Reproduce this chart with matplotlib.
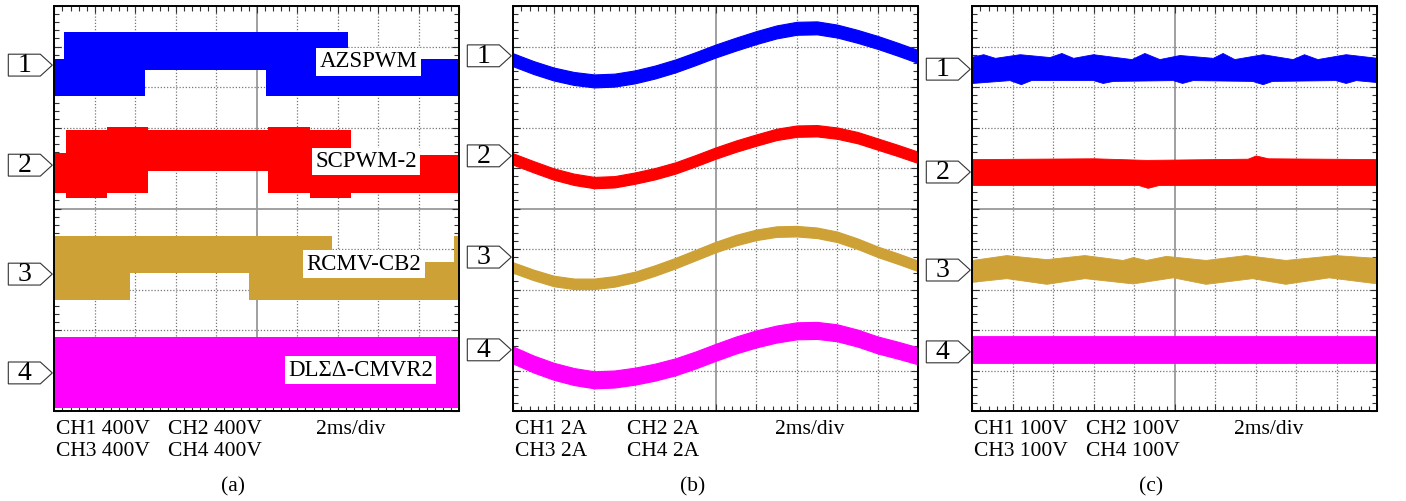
import numpy as np
import matplotlib
matplotlib.use("Agg")
import matplotlib.pyplot as plt
from matplotlib.patches import Polygon
from matplotlib.ticker import MultipleLocator

plt.rcParams['font.family'] = ['Liberation Serif', 'DejaVu Serif']

BLUE = '#0000ff'
RED = '#ff0000'
GOLD = '#cda135'
MAGENTA = '#ff00ff'

# ---- panel (a): stepped common-mode voltages (divisions) ----
a1_x = [0, 0.23, 2.25, 5.22, 7.24, 10]
a1_top = [8.69, 9.36, 9.36, 9.36, 8.69]
a1_bot = [7.78, 7.78, 8.42, 7.78, 7.78]

a2_x = [0, 0.29, 1.30, 2.32, 5.28, 6.32, 7.33, 10]
a2_top = [6.37, 6.94, 7.01, 6.94, 7.01, 6.94, 6.32]
a2_bot = [5.38, 5.26, 5.38, 5.93, 5.38, 5.26, 5.38]

a3_x = [0, 1.88, 4.81, 6.86, 9.88, 10]
a3_top = [4.33, 4.33, 4.33, 3.68, 4.33]
a3_bot = [2.74, 3.41, 2.74, 2.74, 2.74]

a4_x = [0, 10]
a4_top = [1.83]
a4_bot = [0.07]

a_labels = ['AZSPWM', 'SCPWM-2', 'RCMV-CB2', 'DLΣΔ-CMVR2']
a_label_x = [7.76, 7.70, 7.64, 7.56]
a_label_y = [8.62, 6.16, 3.62, 1.01]

# ---- panel (b): phase currents, band centres every 0.5 div ----
b_x = np.arange(0, 10.01, 0.5)
b1 = [8.67, 8.48, 8.32, 8.21, 8.15, 8.17, 8.25, 8.37, 8.52, 8.70, 8.89,
      9.06, 9.22, 9.36, 9.45, 9.46, 9.38, 9.25, 9.10, 8.93, 8.75]
b2 = [6.22, 6.03, 5.85, 5.72, 5.64, 5.66, 5.75, 5.86, 6.00, 6.18, 6.37,
      6.54, 6.69, 6.83, 6.91, 6.92, 6.86, 6.75, 6.59, 6.43, 6.26]
b3 = [3.54, 3.36, 3.21, 3.14, 3.14, 3.20, 3.31, 3.47, 3.65, 3.85, 4.05,
      4.22, 4.35, 4.43, 4.44, 4.40, 4.30, 4.13, 3.93, 3.76, 3.58]
b4 = [1.38, 1.16, 0.98, 0.85, 0.77, 0.79, 0.86, 0.96, 1.09, 1.26, 1.45,
      1.63, 1.78, 1.90, 1.98, 1.99, 1.93, 1.80, 1.63, 1.50, 1.36]
b_half = [0.16, 0.14, 0.13, 0.21]

# ---- panel (c): envelopes ----
c1_top_x = [0, 0.27, 0.56, 1.17, 1.91, 2.20, 2.49, 2.98, 3.93, 4.25, 4.62,
            5.12, 5.94, 6.18, 6.47, 7.17, 7.91, 8.19, 8.52, 9.22, 10]
c1_top = [8.75, 8.81, 8.72, 8.81, 8.74, 8.84, 8.72, 8.81, 8.69, 8.84, 8.69,
          8.79, 8.72, 8.84, 8.69, 8.81, 8.69, 8.81, 8.69, 8.81, 8.72]
c1_bot_x = [0, 0.92, 1.20, 1.45, 2.98, 3.22, 3.47, 4.95, 5.18, 5.44, 6.91,
            7.17, 7.40, 8.96, 9.22, 9.47, 10]
c1_bot = [8.10, 8.17, 8.07, 8.17, 8.17, 8.10, 8.15, 8.17, 8.10, 8.17, 8.15,
          8.07, 8.15, 8.17, 8.10, 8.17, 8.12]

c2_top_x = [0, 3.0, 4.3, 6.8, 7.0, 7.3, 10]
c2_top = [6.22, 6.24, 6.20, 6.23, 6.31, 6.24, 6.22]
c2_bot_x = [0, 4.1, 4.33, 4.6, 10]
c2_bot = [5.58, 5.58, 5.51, 5.58, 5.58]

c3_top_x = [0, 0.84, 1.83, 2.77, 3.71, 3.96, 4.29, 4.78, 5.76, 6.75, 7.73, 8.96, 10]
c3_top = [3.73, 3.85, 3.75, 3.85, 3.73, 3.80, 3.73, 3.83, 3.73, 3.85, 3.73, 3.85, 3.78]
c3_bot_x = [0, 0.84, 1.83, 2.77, 3.96, 4.95, 5.76, 6.91, 7.73, 8.80, 10]
c3_bot = [3.19, 3.28, 3.14, 3.28, 3.15, 3.30, 3.14, 3.28, 3.14, 3.30, 3.15]

c4_x = [0, 10]
c4_top = [1.85, 1.85]
c4_bot = [1.19, 1.19]

# channel marker levels (divisions)
markers = [[8.54, 6.07, 3.38, 0.94],
           [8.77, 6.30, 3.80, 1.51],
           [8.44, 5.90, 3.48, 1.46]]

scales = [('CH1 400V', 'CH2 400V', 'CH3 400V', 'CH4 400V'),
          ('CH1 2A', 'CH2 2A', 'CH3 2A', 'CH4 2A'),
          ('CH1 100V', 'CH2 100V', 'CH3 100V', 'CH4 100V')]
captions = ['(a)', '(b)', '(c)']

fig = plt.figure(figsize=(14.06, 5.01), dpi=100)
lefts = [54.3, 513.3, 972.3]
W, H = 1406.0, 501.0
axes = [fig.add_axes([l / W, 90 / H, 405 / W, 405 / H]) for l in lefts]


def scope(ax):
    ax.set_xlim(0, 10)
    ax.set_ylim(0, 10)
    for k in range(1, 10):
        if k == 5:
            ax.axvline(k, color='#999999', lw=1.3, zorder=1)
            ax.axhline(k, color='#999999', lw=1.3, zorder=1)
        else:
            ax.axvline(k, color='#777777', lw=0.9, ls=(0, (1, 1.5)), zorder=1)
            ax.axhline(k, color='#777777', lw=0.9, ls=(0, (1, 1.5)), zorder=1)
    ax.xaxis.set_major_locator(MultipleLocator(1))
    ax.yaxis.set_major_locator(MultipleLocator(1))
    ax.xaxis.set_minor_locator(MultipleLocator(0.2))
    ax.yaxis.set_minor_locator(MultipleLocator(0.2))
    ax.tick_params(which='both', direction='in', top=True, right=True,
                   labelbottom=False, labelleft=False, width=0.8, color='#333333')
    ax.tick_params(which='major', length=5)
    ax.tick_params(which='minor', length=3.5)
    for s in ax.spines.values():
        s.set_linewidth(1.4)
        s.set_zorder(5)


def step_band(ax, xs, top, bot, color):
    ax.fill_between(xs, top + [top[-1]], bot + [bot[-1]], step='post',
                    color=color, lw=0, zorder=2)


def env_band(ax, xt, top, xb, bot, color):
    xs = np.union1d(xt, xb)
    ax.fill_between(xs, np.interp(xs, xt, top), np.interp(xs, xb, bot),
                    color=color, lw=0.6, edgecolor=color, zorder=2)


for ax in axes:
    scope(ax)

# panel a
ax = axes[0]
step_band(ax, a1_x, a1_top, a1_bot, BLUE)
step_band(ax, a2_x, a2_top, a2_bot, RED)
step_band(ax, a3_x, a3_top, a3_bot, GOLD)
step_band(ax, a4_x, a4_top, a4_bot, MAGENTA)
for txt, x, y in zip(a_labels, a_label_x, a_label_y):
    ax.text(x, y, txt, fontsize=16.5, ha='center', va='center', zorder=4,
            bbox=dict(facecolor='white', edgecolor='none', pad=2.5))

# panel b
ax = axes[1]
for c, col, h in zip([b1, b2, b3, b4], [BLUE, RED, GOLD, MAGENTA], b_half):
    c = np.array(c)
    ax.fill_between(b_x, c + h, c - h, color=col, lw=0.8, edgecolor=col, zorder=2)

# panel c
ax = axes[2]
env_band(ax, c1_top_x, c1_top, c1_bot_x, c1_bot, BLUE)
env_band(ax, c2_top_x, c2_top, c2_bot_x, c2_bot, RED)
env_band(ax, c3_top_x, c3_top, c3_bot_x, c3_bot, GOLD)
env_band(ax, c4_x, c4_top, c4_x, c4_bot, MAGENTA)

# channel markers, texts, captions
for ax, lv, sc, cap in zip(axes, markers, scales, captions):
    tr = ax.get_yaxis_transform()
    for i, y in enumerate(lv):
        hh = 0.27
        pts = [(-46 / 405, y - hh), (-14 / 405, y - hh), (-2 / 405, y),
               (-14 / 405, y + hh), (-46 / 405, y + hh)]
        ax.add_patch(Polygon(pts, closed=True, transform=tr, clip_on=False,
                             facecolor='white', edgecolor='#333333', lw=0.8))
        ax.text(-30 / 405, y - 0.02, str(i + 1), transform=tr, fontsize=20,
                ha='center', va='center')
    ax.text(0.004, -0.046, sc[0], transform=ax.transAxes, fontsize=15.5, va='center')
    ax.text(0.281, -0.046, sc[1], transform=ax.transAxes, fontsize=15.5, va='center')
    ax.text(0.004, -0.100, sc[2], transform=ax.transAxes, fontsize=15.5, va='center')
    ax.text(0.281, -0.100, sc[3], transform=ax.transAxes, fontsize=15.5, va='center')
    ax.text(0.646, -0.046, '2ms/div', transform=ax.transAxes, fontsize=15.5, va='center')
    ax.text(0.442, -0.188, cap, transform=ax.transAxes, fontsize=15.5,
            ha='center', va='center')

fig.savefig('out.png', dpi=100)
